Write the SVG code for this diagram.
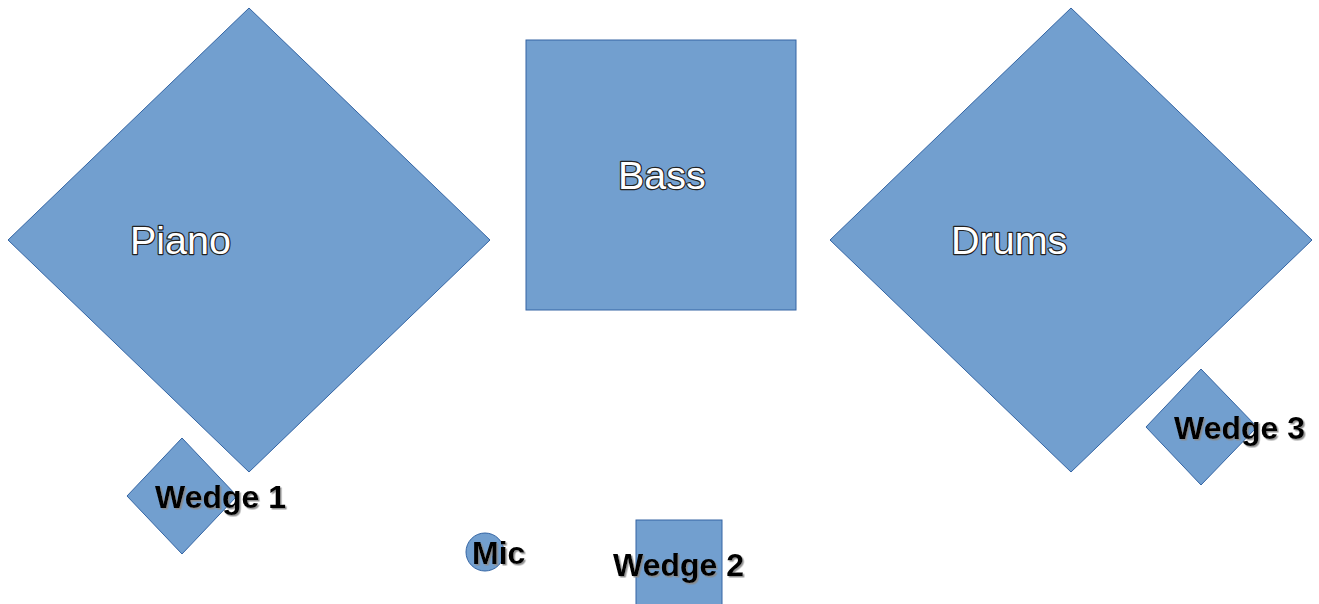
<svg xmlns="http://www.w3.org/2000/svg" width="1319" height="604" viewBox="0 0 1319 604">
<style>
.shape{fill:#729fcf;stroke:#3465a4;stroke-width:1}
.big{font-family:"Liberation Sans",Arial,sans-serif;font-size:39.5px;fill:#ffffff;stroke:#222222;stroke-width:2.4;paint-order:stroke;stroke-linejoin:round}
.small{font-family:"Liberation Sans",Arial,sans-serif;font-size:32px;font-weight:bold;fill:#000000;filter:url(#sh)}
</style>
<defs>
<filter id="sh" x="-10%" y="-20%" width="130%" height="150%">
<feDropShadow dx="1.5" dy="1.5" stdDeviation="0.6" flood-color="#888888" flood-opacity="0.9"/>
</filter>
</defs>
<rect width="1319" height="604" fill="#ffffff"/>
<g id="connectors"></g>
<g id="piano">
<polygon class="shape" points="249,8 490,240 249,472 8,240"/>
<text class="big" x="130" y="254">Piano</text>
</g>
<g id="bass">
<rect class="shape" x="526" y="40" width="270" height="270"/>
<text class="big" x="618" y="189">Bass</text>
</g>
<g id="drums">
<polygon class="shape" points="1071,8 1312,240 1071,472 830,240"/>
<text class="big" x="951" y="254">Drums</text>
</g>
<g id="wedge1">
<polygon class="shape" points="182,438 237,496 182,554 127,496"/>
<text class="small" x="155" y="508">Wedge 1</text>
</g>
<g id="wedge3">
<polygon class="shape" points="1201,369 1257,427 1201,485 1146,427"/>
<text class="small" x="1174" y="439">Wedge 3</text>
</g>
<g id="mic">
<circle class="shape" cx="485" cy="552" r="19"/>
<text class="small" x="472" y="564">Mic</text>
</g>
<g id="wedge2">
<rect class="shape" x="636" y="520" width="86" height="86"/>
<text class="small" x="613" y="576">Wedge 2</text>
</g>
</svg>
